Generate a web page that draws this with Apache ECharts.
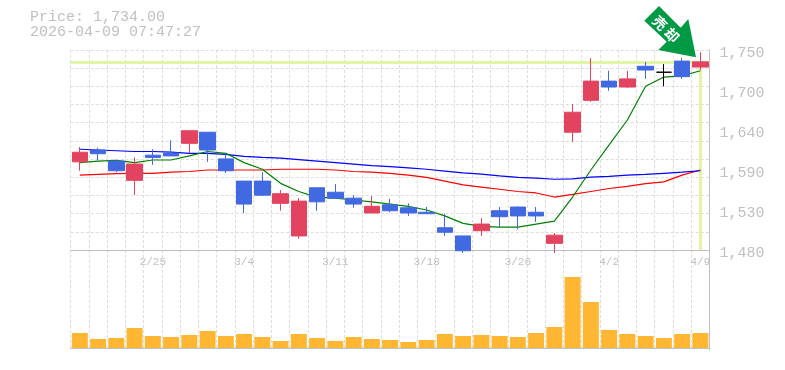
<!DOCTYPE html>
<html>
<head>
<meta charset="utf-8">
<title>Price chart</title>
<style>
    html, body { margin: 0; padding: 0; background: #fff; }
    #cn { width: 785px; height: 370px; }
</style>
<script src="https://cdn.jsdelivr.net/npm/echarts@6/dist/echarts.min.js"></script>
</head>
<body>
<div id="cn"></div>
<script>
'use strict';

const arrDate = [
    '2/18', '2/19', '2/20', '2/24', '2/25', '2/26', '2/27', '3/2', '3/3', '3/4', '3/5', '3/6',
    '3/9', '3/10', '3/11', '3/12', '3/13', '3/16', '3/17', '3/18', '3/19', '3/23', '3/24', '3/25',
    '3/26', '3/27', '3/30', '3/31', '4/1', '4/2', '4/3', '4/6', '4/7', '4/8', '4/9'
];
const arrShownDate = ['2/25', '3/4', '3/11', '3/18', '3/26', '4/2', '4/9'];

// open close low high
const arrPlot = [
    [1599, 1612, 1587, 1619], [1615, 1610, 1601, 1618], [1600, 1587, 1585, 1601], [1574, 1596, 1554, 1605],
    [1608, 1605, 1595, 1616], [1611, 1607, 1607, 1628], [1624, 1641, 1611, 1641], [1639, 1615, 1599, 1639],
    [1603, 1587, 1584, 1611], [1573, 1542, 1530, 1573], [1573, 1554, 1553, 1585], [1543, 1556, 1533, 1561],
    [1499, 1546, 1495, 1550], [1564, 1545, 1533, 1564], [1558, 1550, 1550, 1569], [1550, 1542, 1537, 1554],
    [1530, 1539, 1530, 1553], [1541, 1533, 1531, 1549], [1537, 1530, 1526, 1543], [1531, 1529, 1529, 1538],
    [1510, 1504, 1499, 1529], [1499, 1479, 1476, 1499], [1506, 1515, 1499, 1523], [1533, 1525, 1511, 1538],
    [1538, 1526, 1508, 1539], [1531, 1526, 1518, 1538], [1489, 1500, 1476, 1503], [1639, 1666, 1626, 1677],
    [1682, 1708, 1680, 1739], [1708, 1700, 1695, 1722], [1700, 1711, 1699, 1722], [1728, 1723, 1711, 1734],
    [1720, 1720, 1701, 1731], [1735, 1714, 1711, 1739], [1727, 1734, 1723, 1747]
];

const arrMaShort = [
    1598, 1600, 1601, 1598, 1601.5, 1601.5, 1607, 1613, 1610.5, 1598, 1589, 1570,
    1559, 1551, 1550, 1547.5, 1545, 1542, 1539, 1534, 1526, 1516, 1512, 1511,
    1511, 1515, 1519, 1551.5, 1588, 1622, 1655.5, 1701, 1713.5, 1715, 1722
];
const arrMaMid = [
    1616, 1615, 1614, 1613, 1613, 1612, 1610.5, 1610.5, 1609, 1606.5, 1605, 1604,
    1602, 1600, 1598, 1596, 1594, 1592.5, 1591, 1589, 1586.5, 1584, 1582.5, 1580,
    1578, 1577, 1575.5, 1576, 1578.5, 1579.5, 1581, 1582, 1583.5, 1585, 1587
];
const arrMaLong = [
    1581, 1582, 1583, 1583.5, 1583.5, 1585, 1586, 1588, 1588, 1588, 1588, 1589,
    1589, 1589, 1588, 1586, 1585, 1583.5, 1581, 1578, 1573, 1568, 1565, 1562,
    1559, 1557, 1551.5, 1555, 1559, 1563, 1566, 1569.5, 1572, 1581, 1588
];
const arrVolume = [
    150, 90, 100, 200, 120, 110, 130, 170, 120, 140, 110, 70,
    140, 100, 70, 110, 90, 80, 60, 80, 140, 120, 130, 120,
    110, 150, 210, 710, 460, 180, 140, 120, 100, 140, 150
];

const arrPriceTick = [1480, 1534, 1588, 1642, 1696, 1750];
const arrPriceTickLabel = ['1,480', '1,530', '1,590', '1,640', '1,700', '1,750'];
const arrPriceGrid = [1480, 1504.5, 1529.1, 1553.6, 1578.2, 1602.7, 1627.3, 1651.8, 1676.4, 1700.9, 1725.5, 1750];

const lastPrice = 1734;
const lastDate = '4/9';
const strPrice = 'Price: 1,734.00';
const strTime = '2026-04-09 07:47:27';
const strArrow = '売 却';

const COLOR_TEXT = '#c0c0c0';
const COLOR_GRID = '#dddddd';
const FONT = '"Liberation Mono", monospace';

const pandaChart = echarts.init(document.getElementById('cn'), null, { renderer: 'canvas' });

const splitStyle = {
    show: true,
    interval: 0,
    lineStyle: { color: COLOR_GRID, type: [3, 2], width: 1 }
};

const option = {
    animation: false,
    backgroundColor: '#fff',
    title: {
        text: strPrice + '\n' + strTime,
        left: 30,
        top: 10,
        padding: 0,
        textStyle: {
            color: COLOR_TEXT,
            fontFamily: FONT,
            fontSize: 15,
            fontWeight: 'normal',
            lineHeight: 15
        }
    },
    grid: [
        { left: 70.7, width: 638.8, top: 50, height: 200 },
        { left: 70.7, width: 638.8, top: 250, height: 100 }
    ],
    xAxis: [
        {
            type: 'category',
            gridIndex: 0,
            data: arrDate,
            boundaryGap: true,
            axisTick: { show: false },
            axisLine: { lineStyle: { color: COLOR_TEXT, width: 1 } },
            splitLine: splitStyle,
            axisLabel: {
                color: COLOR_TEXT,
                fontFamily: FONT,
                fontSize: 11,
                margin: 7,
                hideOverlap: false,
                interval: (index, value) => arrShownDate.includes(value)
            }
        },
        {
            type: 'category',
            gridIndex: 1,
            data: arrDate,
            boundaryGap: true,
            axisTick: { show: false },
            axisLabel: { show: false },
            axisLine: { lineStyle: { color: COLOR_TEXT, width: 1 } },
            splitLine: splitStyle
        }
    ],
    yAxis: [
        {
            type: 'value',
            gridIndex: 0,
            position: 'right',
            min: 1480,
            max: 1750,
            axisLine: { show: true, lineStyle: { color: COLOR_TEXT, width: 1 } },
            axisTick: { show: false, customValues: arrPriceGrid },
            splitLine: splitStyle,
            axisLabel: {
                customValues: arrPriceTick,
                color: COLOR_TEXT,
                fontFamily: FONT,
                fontSize: 15,
                margin: 10,
                verticalAlign: 'top',
                lineHeight: 6,
                formatter: value => arrPriceTickLabel[arrPriceTick.indexOf(value)]
            }
        },
        {
            type: 'value',
            gridIndex: 1,
            position: 'right',
            min: -20,
            max: 980,
            axisLine: { show: true, lineStyle: { color: COLOR_TEXT, width: 1 } },
            axisTick: { show: false },
            axisLabel: { show: false },
            splitLine: { show: false }
        }
    ],
    series: [
        {
            name: 'MA long',
            type: 'line',
            data: arrMaLong,
            z: 2,
            symbol: 'none',
            lineStyle: { color: '#ff0000', width: 1.2 },
            markLine: {
                silent: true,
                symbol: 'none',
                z: 1,
                label: { show: false },
                lineStyle: { color: '#e2f5a5', type: 'solid', width: 3 },
                data: [
                    { yAxis: lastPrice },
                    [{ coord: [lastDate, lastPrice] }, { coord: [lastDate, 1480] }]
                ]
            }
        },
        {
            name: 'MA mid',
            type: 'line',
            data: arrMaMid,
            z: 2,
            symbol: 'none',
            lineStyle: { color: '#0000ff', width: 1.2 }
        },
        {
            name: 'MA short',
            type: 'line',
            data: arrMaShort,
            z: 2,
            symbol: 'none',
            lineStyle: { color: '#008000', width: 1.2 }
        },
        {
            type: 'candlestick',
            data: arrPlot,
            z: 3,
            barWidth: 16,
            itemStyle: {
                color: '#e2445f',
                color0: '#4169e1',
                borderColor: '#e2445f',
                borderColor0: '#4169e1',
                borderColorDoji: '#000000',
                borderWidth: 1
            }
        },
        {
            type: 'bar',
            xAxisIndex: 1,
            yAxisIndex: 1,
            data: arrVolume,
            barWidth: 16,
            itemStyle: { color: '#ffb733' }
        }
    ],
    graphic: [
        {
            type: 'polygon',
            z: 10,
            shape: {
                points: [[644.3, 20.7], [659, 6], [680.7, 27.7], [688.3, 19], [696, 57.3], [658.3, 50], [666.7, 41.7]]
            },
            style: { fill: '#009944' }
        },
        {
            type: 'text',
            z: 11,
            x: 666,
            y: 29,
            rotation: -Math.PI / 4,
            style: {
                text: strArrow,
                fill: '#ffffff',
                font: 'bold 14px "Noto Sans CJK JP"',
                align: 'center',
                verticalAlign: 'middle'
            }
        }
    ]
};

pandaChart.setOption(option);
</script>
</body>
</html>
